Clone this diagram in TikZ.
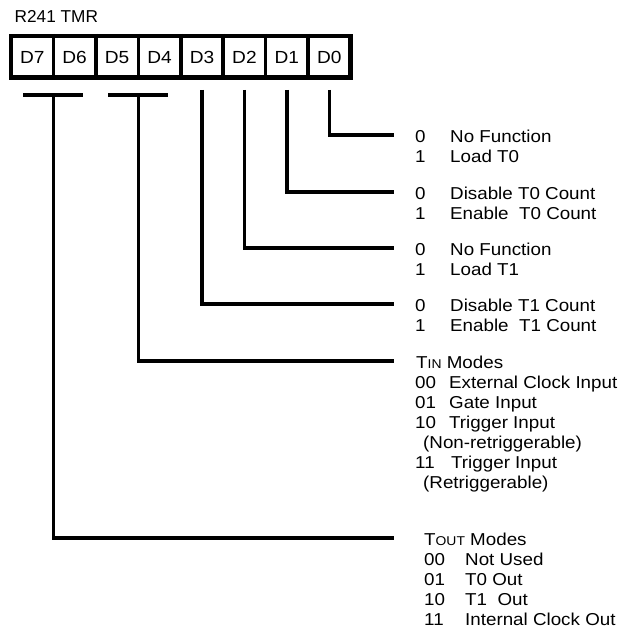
\documentclass[tikz,border=0pt]{standalone}
\usepackage{fontspec}
\setmainfont{Liberation Sans}
\newfontfamily\wfont[FakeStretch=1.09]{Liberation Sans}
\newcommand{\sml}[1]{{\fontsize{12.8}{14}\selectfont #1}}
\begin{document}
\begin{tikzpicture}[x=1bp,y=-1bp,
  txt/.style={font=\wfont\fontsize{17.3}{20}\selectfont, inner sep=0pt, anchor=base west},
  ttl/.style={font=\fontsize{17.3}{20}\selectfont, inner sep=0pt, anchor=base west},
  cell/.style={font=\wfont\fontsize{17.6}{20}\selectfont, inner sep=0pt, minimum width=42.4bp, minimum height=41bp},
  wire/.style={line width=3.4bp},
  frame/.style={line width=4.4bp},
  divider/.style={line width=3.6bp}]
\useasboundingbox (0,0) rectangle (631,633);
% title
\node[ttl] (title) at (14.5,23) {R241 TMR};
% register cells
\foreach \n [count=\i from 0] in {7,6,5,4,3,2,1,0}
  \node[cell] (d\n) at ({11+42.44*(\i+0.5)},57.2) {D\n};
\foreach \i in {1,...,7}
  \draw[divider] ({11+42.44*\i},34) -- ({11+42.44*\i},79);
\draw[frame] (11,36) rectangle (350.5,77.5);
% end points of connectors
\coordinate (e0) at (394,135);
\coordinate (e1) at (394,192);
\coordinate (e2) at (394,248);
\coordinate (e3) at (394,304);
\coordinate (e54) at (394,361);
\coordinate (e76) at (394,538);
\coordinate (b54) at (138.3,95);
\coordinate (b76) at (53.4,95);
% connectors
\draw[wire] (d0.center |- 0,90) |- (e0);
\draw[wire] (d1.center |- 0,90) |- (e1);
\draw[wire] (d2.center |- 0,90) |- (e2);
\draw[wire] (d3.center |- 0,90) |- (e3);
\draw[wire] (108,95) -- (168,95);
\draw[wire] (b54) |- (e54);
\draw[wire] (23,95) -- (83,95);
\draw[wire] (b76) |- (e76);
% D0
\node[txt] (a0) at (415,142.5) {0};   \node[txt] (a0t) at (450,142.5) {No Function};
\node[txt] (a1) at (415,162.5) {1};   \node[txt] (a1t) at (450,162.5) {Load T0};
% D1
\node[txt] (b0) at (415,199.5) {0};   \node[txt] (b0t) at (450,199.5) {Disable T0 Count};
\node[txt] (b1) at (415,219.5) {1};   \node[txt] (b1t) at (450,219.5) {Enable\ \ T0 Count};
% D2
\node[txt] (c0) at (415,255.5) {0};   \node[txt] (c0t) at (450,255.5) {No Function};
\node[txt] (c1) at (415,275.5) {1};   \node[txt] (c1t) at (450,275.5) {Load T1};
% D3
\node[txt] (f0) at (415,311.5) {0};   \node[txt] (f0t) at (450,311.5) {Disable T1 Count};
\node[txt] (f1) at (415,331.5) {1};   \node[txt] (f1t) at (450,331.5) {Enable\ \ T1 Count};
% Tin
\node[txt] (tin) at (416,368) {T\sml{IN} Modes};
\node[txt] (g0) at (415,388) {00};  \node[txt] (g0t) at (449,388) {External Clock Input};
\node[txt] (g1) at (415,408) {01};  \node[txt] (g1t) at (449,408) {Gate Input};
\node[txt] (g2) at (415,428) {10};  \node[txt] (g2t) at (449,428) {Trigger Input};
\node[txt] (g2b) at (423,448) {(Non-retriggerable)};
\node[txt] (g3) at (415,468) {11};  \node[txt] (g3t) at (451,468) {Trigger Input};
\node[txt] (g3b) at (423,488) {(Retriggerable)};
% Tout
\node[txt] (tout) at (424,545) {T\sml{OUT} Modes};
\node[txt] (h0) at (424,565) {00};  \node[txt] (h0t) at (465,565) {Not Used};
\node[txt] (h1) at (424,585) {01};  \node[txt] (h1t) at (465,585) {T0 Out};
\node[txt] (h2) at (424,605) {10};  \node[txt] (h2t) at (465,605) {T1\ \ Out};
\node[txt] (h3) at (424,625) {11};  \node[txt] (h3t) at (465,625) {Internal Clock Out};
\end{tikzpicture}
\end{document}
